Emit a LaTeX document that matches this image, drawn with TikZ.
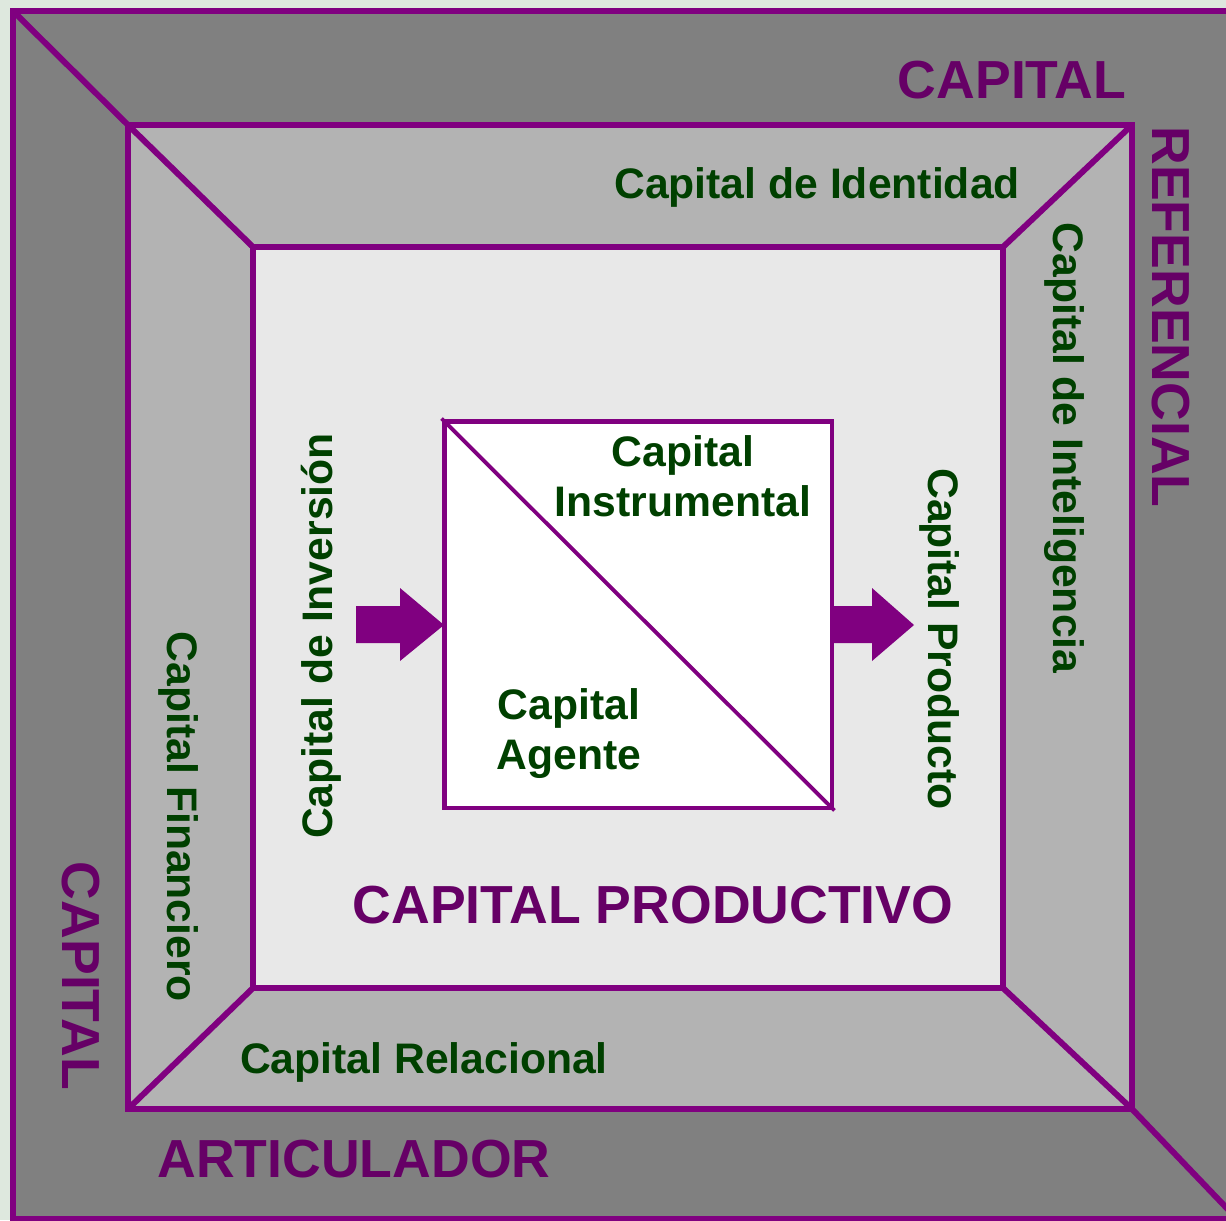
\documentclass[tikz,border=0pt]{standalone}
\usepackage{fontspec}
\setmainfont{Liberation Sans}

\definecolor{frame}{RGB}{128,0,128}
\definecolor{titletext}{RGB}{102,0,102}
\definecolor{nametext}{RGB}{0,64,0}
\definecolor{outergray}{RGB}{128,128,128}
\definecolor{midgray}{RGB}{179,179,179}
\definecolor{innergray}{RGB}{232,232,232}
\definecolor{paper}{RGB}{222,232,222}

\begin{document}
\begin{tikzpicture}[x=0.02cm,y=-0.02cm,
  frame line/.style={draw=frame,line width=3.4pt},
  core box/.style={rectangle,draw=frame,fill=white,line width=2.8pt,
    minimum width=7.76cm,minimum height=7.74cm,inner sep=0pt},
  flow arrow/.style={fill=frame},
  title node/.style={anchor=base,inner sep=0pt,text=titletext,
    font=\fontsize{30.5}{36}\selectfont\bfseries},
  name node/.style={anchor=base,inner sep=0pt,text=nametext,
    font=\fontsize{24.3}{28.5}\selectfont\bfseries},
  pair node/.style={inner sep=0pt,text=nametext,align=center,
    font=\fontsize{24.3}{28.5}\selectfont\bfseries}]

  \useasboundingbox (0,0) rectangle (1226,1220);
  \clip (0,0) rectangle (1226,1220);
  \fill[paper] (0,0) rectangle (1226,1220);

  % corners of the three frames
  \coordinate (out nw) at (13,11);
  \coordinate (out se) at (1260,1219);
  \coordinate (out end) at (1240,1222);
  \coordinate (mid nw) at (128,125);
  \coordinate (mid ne) at (1132,125);
  \coordinate (mid sw) at (128,1109);
  \coordinate (mid se) at (1132,1109);
  \coordinate (in nw) at (253,247);
  \coordinate (in ne) at (1003,247);
  \coordinate (in sw) at (253,988);
  \coordinate (in se) at (1003,988);

  \fill[outergray] (out nw) rectangle (out se);
  \fill[midgray] (mid nw) rectangle (mid se);
  \fill[innergray] (in nw) rectangle (in se);

  \draw[frame line] (out nw) rectangle (out se);
  \draw[frame line] (mid nw) rectangle (mid se);
  \draw[frame line] (in nw) rectangle (in se);
  \draw[frame line] (out nw) -- (mid nw) -- (in nw);
  \draw[frame line] (mid ne) -- (in ne);
  \draw[frame line] (mid sw) -- (in sw);
  \draw[frame line] (in se) -- (mid se) -- (out end);

  \node[core box] (core) at (638,614.5) {};
  \draw[frame,line width=2.2pt] (core.north west) -- (core.south east);

  % flow in and out of the core
  \fill[flow arrow] (356,606) -- (400,606) -- (400,588) -- (444,625)
    -- (400,661) -- (400,643) -- (356,643) -- cycle;
  \fill[flow arrow] (832,606) -- (872,606) -- (872,588) -- (914,625)
    -- (872,661) -- (872,643) -- (832,643) -- cycle;

  \node[pair node] (instr) at (683,476) {Capital\\Instrumental};
  \node[pair node] (agent) at (569,734) {Capital\\Agente};

  \node[title node] (refa) at (1012,98) {CAPITAL};
  \node[title node,rotate=-90] (refb) at (1152,317) {REFERENCIAL};
  \node[title node,rotate=-90] (arta) at (62,976) {CAPITAL};
  \node[title node] (artb) at (354,1177) {ARTICULADOR};
  \node[title node] (prod) at (653,923) {CAPITAL PRODUCTIVO};

  \node[name node] (ident) at (817,198) {Capital de Identidad};
  \node[name node,rotate=-90] (intel) at (1053,448) {Capital de Inteligencia};
  \node[name node,rotate=-90] (finan) at (167,817) {Capital Financiero};
  \node[name node] (relac) at (424,1073) {Capital Relacional};
  \node[name node,rotate=90] (inver) at (332,636) {Capital de Inversión};
  \node[name node,rotate=-90] (outp) at (928,639) {Capital Producto};
\end{tikzpicture}
\end{document}
